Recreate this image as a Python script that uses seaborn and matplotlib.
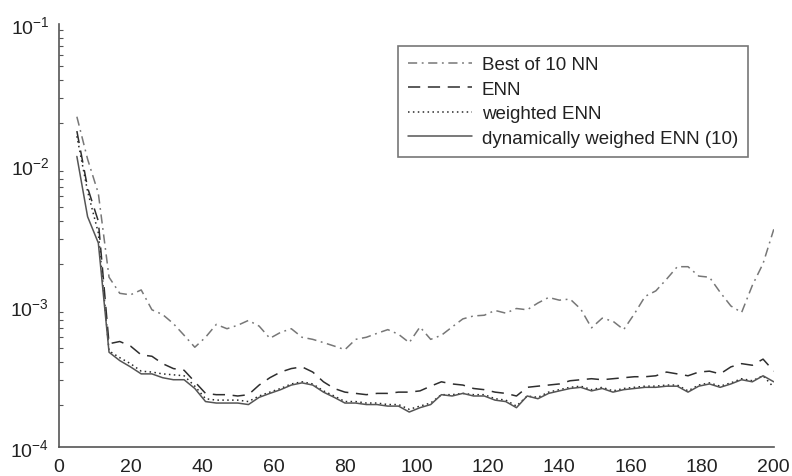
import numpy as np
import pandas as pd
import matplotlib
matplotlib.use("Agg")
import matplotlib.pyplot as plt
import seaborn as sns

# network sizes (5:3:200)
sizes = list(range(5, 201, 3))

best_nn = [2.2e-2, 1.1e-2, 6.3e-3, 1.6e-3, 1.23e-3, 1.2e-3, 1.3e-3, 9.4e-4, 8.7e-4, 7.5e-4,
           6.2e-4, 5.1e-4, 6.0e-4, 7.4e-4, 6.9e-4, 7.3e-4, 7.9e-4, 7.2e-4, 5.9e-4, 6.5e-4,
           6.9e-4, 6.0e-4, 5.8e-4, 5.5e-4, 5.2e-4, 4.9e-4, 5.8e-4, 6.0e-4, 6.4e-4, 6.8e-4,
           6.3e-4, 5.5e-4, 7.1e-4, 5.8e-4, 6.2e-4, 7.1e-4, 8.1e-4, 8.5e-4, 8.6e-4, 9.3e-4,
           8.9e-4, 9.6e-4, 9.4e-4, 1.05e-3, 1.15e-3, 1.1e-3, 1.12e-3, 9.5e-4, 7.0e-4, 8.2e-4,
           7.8e-4, 6.8e-4, 8.8e-4, 1.17e-3, 1.28e-3, 1.55e-3, 1.9e-3, 1.9e-3, 1.63e-3, 1.6e-3,
           1.25e-3, 1.0e-3, 9.0e-4, 1.4e-3, 2.0e-3, 3.5e-3]

enn = [1.74e-2, 6.9e-3, 4.0e-3, 5.4e-4, 5.6e-4, 5.2e-4, 4.5e-4, 4.4e-4, 3.9e-4, 3.6e-4,
       3.5e-4, 2.9e-4, 2.4e-4, 2.35e-4, 2.35e-4, 2.3e-4, 2.35e-4, 2.75e-4, 3.1e-4, 3.4e-4,
       3.6e-4, 3.7e-4, 3.4e-4, 2.9e-4, 2.6e-4, 2.45e-4, 2.4e-4, 2.35e-4, 2.4e-4, 2.4e-4,
       2.45e-4, 2.45e-4, 2.5e-4, 2.7e-4, 2.9e-4, 2.8e-4, 2.75e-4, 2.6e-4, 2.55e-4, 2.45e-4,
       2.4e-4, 2.3e-4, 2.65e-4, 2.7e-4, 2.75e-4, 2.8e-4, 2.95e-4, 3.0e-4, 3.05e-4, 3.0e-4,
       3.05e-4, 3.1e-4, 3.15e-4, 3.15e-4, 3.2e-4, 3.4e-4, 3.3e-4, 3.2e-4, 3.4e-4, 3.45e-4,
       3.3e-4, 3.7e-4, 3.9e-4, 3.8e-4, 4.2e-4, 3.45e-4]

weighted_enn = [1.6e-2, 6.5e-3, 3.3e-3, 4.8e-4, 4.3e-4, 3.9e-4, 3.45e-4, 3.4e-4, 3.3e-4, 3.25e-4,
                3.2e-4, 2.7e-4, 2.2e-4, 2.15e-4, 2.15e-4, 2.15e-4, 2.1e-4, 2.3e-4, 2.45e-4, 2.6e-4,
                2.8e-4, 2.9e-4, 2.8e-4, 2.5e-4, 2.3e-4, 2.1e-4, 2.1e-4, 2.05e-4, 2.05e-4, 2.0e-4,
                2.0e-4, 1.85e-4, 1.95e-4, 2.05e-4, 2.35e-4, 2.35e-4, 2.4e-4, 2.35e-4, 2.35e-4, 2.2e-4,
                2.15e-4, 1.95e-4, 2.3e-4, 2.25e-4, 2.45e-4, 2.55e-4, 2.65e-4, 2.7e-4, 2.55e-4, 2.65e-4,
                2.5e-4, 2.6e-4, 2.65e-4, 2.7e-4, 2.7e-4, 2.75e-4, 2.75e-4, 2.5e-4, 2.75e-4, 2.85e-4,
                2.7e-4, 2.85e-4, 3.05e-4, 2.95e-4, 3.2e-4, 2.65e-4]

dyn_enn = [1.15e-2, 4.3e-3, 2.8e-3, 4.7e-4, 4.1e-4, 3.7e-4, 3.3e-4, 3.3e-4, 3.1e-4, 3.0e-4,
           3.0e-4, 2.6e-4, 2.1e-4, 2.05e-4, 2.05e-4, 2.05e-4, 2.0e-4, 2.25e-4, 2.4e-4, 2.55e-4,
           2.75e-4, 2.85e-4, 2.75e-4, 2.45e-4, 2.25e-4, 2.05e-4, 2.05e-4, 2.0e-4, 2.0e-4, 1.95e-4,
           1.95e-4, 1.77e-4, 1.9e-4, 2.0e-4, 2.35e-4, 2.3e-4, 2.4e-4, 2.3e-4, 2.3e-4, 2.15e-4,
           2.1e-4, 1.9e-4, 2.3e-4, 2.2e-4, 2.4e-4, 2.5e-4, 2.6e-4, 2.65e-4, 2.5e-4, 2.6e-4,
           2.45e-4, 2.55e-4, 2.6e-4, 2.65e-4, 2.65e-4, 2.7e-4, 2.7e-4, 2.45e-4, 2.7e-4, 2.8e-4,
           2.65e-4, 2.8e-4, 3.0e-4, 2.9e-4, 3.2e-4, 2.9e-4]

labels = ["Best of 10 NN", "ENN", "weighted ENN", "dynamically weighed ENN (10)"]
series = [best_nn, enn, weighted_enn, dyn_enn]

df = pd.concat([pd.DataFrame({"size": sizes, "error": s, "method": lab})
                for s, lab in zip(series, labels)])

sns.set_style("white")
plt.rcParams['font.family'] = ['Liberation Sans', 'DejaVu Sans']
plt.rcParams['mathtext.fontset'] = 'custom'
plt.rcParams['mathtext.rm'] = 'Liberation Sans'

fig = plt.figure(figsize=(7.92, 4.77), dpi=100)
ax = fig.add_axes([0.0745, 0.0608, 0.9025, 0.8868])

styles = {
    "Best of 10 NN": dict(color="#777777", dashes=(6, 3, 1.2, 3)),
    "ENN": dict(color="#2e2e2e", dashes=(8, 5)),
    "weighted ENN": dict(color="#2a2a2a", dashes=(1, 2.2)),
    "dynamically weighed ENN (10)": dict(color="#555555", dashes=()),
}

for lab in labels:
    st = styles[lab]
    sns.lineplot(data=df[df["method"] == lab], x="size", y="error", ax=ax,
                 color=st["color"], linewidth=1.1, label=lab)
    if st["dashes"]:
        ax.lines[-1].set_dashes(st["dashes"])

ax.set_yscale("log")
ax.set_xlim(0, 200)
ax.set_ylim(1e-4, 1e-1)
ax.set_xticks(range(0, 201, 20))
ax.set_xlabel("")
ax.set_ylabel("")

for side in ["top", "right"]:
    ax.spines[side].set_visible(False)
for side in ["left", "bottom"]:
    ax.spines[side].set_color("#555555")
    ax.spines[side].set_linewidth(1.2)

ax.tick_params(axis="both", which="major", direction="in", length=5, width=1,
               color="#555555", labelsize=14, labelcolor="#222222")
ax.tick_params(axis="y", which="minor", direction="in", length=3, width=0.8,
               color="#555555", left=True)
ax.tick_params(axis="x", which="major", pad=8)
ax.tick_params(axis="y", which="major", pad=7)

leg = ax.legend(loc="upper right", bbox_to_anchor=(0.972, 0.962), fontsize=13.5,
                frameon=True, fancybox=False, edgecolor="#555555",
                handlelength=3.4, labelspacing=0.4, borderpad=0.55,
                handletextpad=0.5, borderaxespad=0.3)
leg.get_frame().set_linewidth(1.2)
for t in leg.get_texts():
    t.set_color("#222222")

fig.savefig("out.png", dpi=100)
